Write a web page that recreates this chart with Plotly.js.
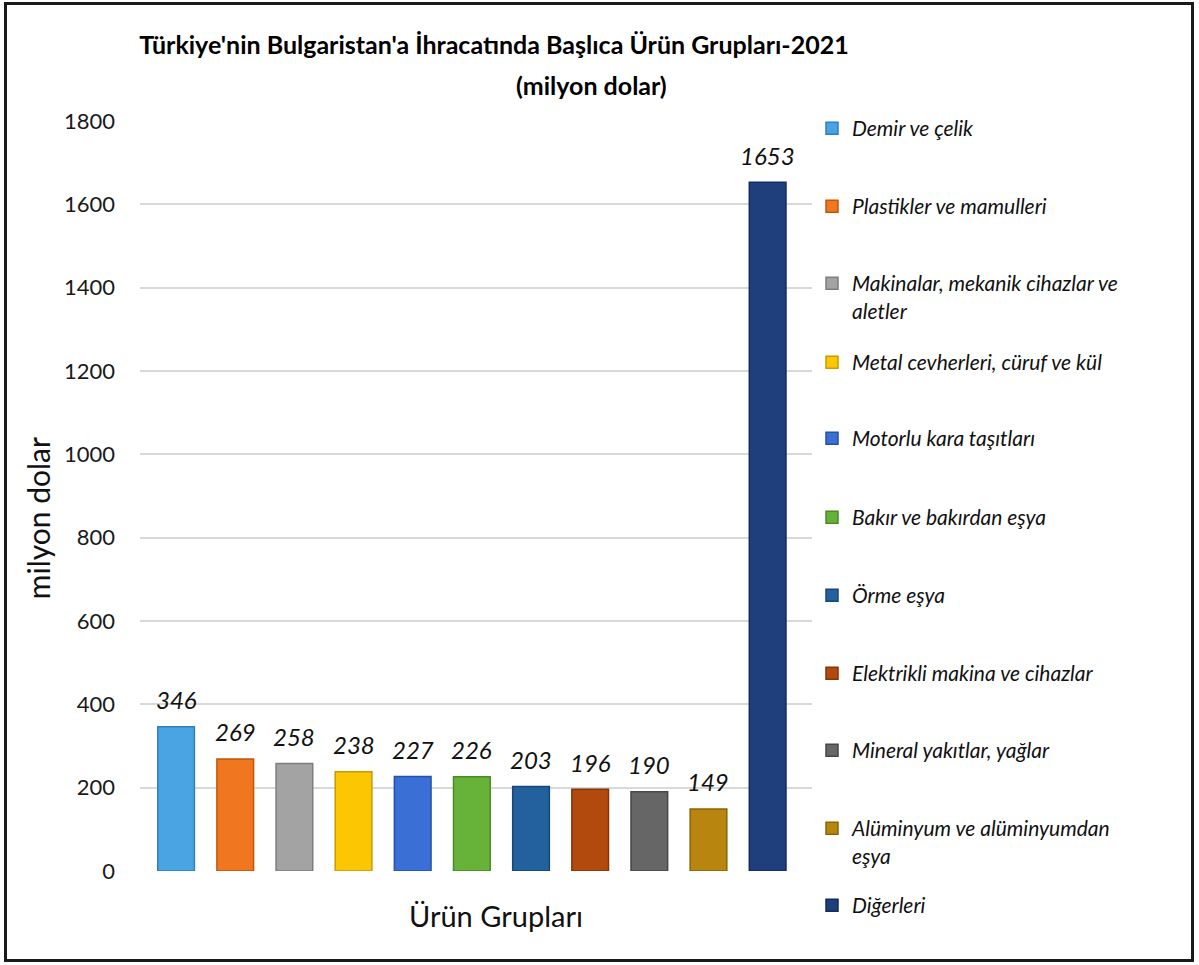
<!DOCTYPE html>
<html><head><meta charset="utf-8">
<script src="https://cdn.plot.ly/plotly-3.0.1.min.js"></script>
<style>
body{margin:0;background:#fff}
#frame{position:absolute;left:4px;top:2px;width:1184px;height:954px;border:3px solid #1a1a1a;pointer-events:none}
</style>
</head><body>
<div id="chart" style="width:1199px;height:965px"></div>
<div id="frame"></div>
<script>
const categories = [
  "Demir ve çelik",
  "Plastikler ve mamulleri",
  "Makinalar, mekanik cihazlar ve<br>aletler",
  "Metal cevherleri, cüruf ve kül",
  "Motorlu kara taşıtları",
  "Bakır ve bakırdan eşya",
  "Örme eşya",
  "Elektrikli makina ve cihazlar",
  "Mineral yakıtlar, yağlar",
  "Alüminyum ve alüminyumdan<br>eşya",
  "Diğerleri"
];
const values = [346, 269, 258, 238, 227, 226, 203, 196, 190, 149, 1653];
const yTicks = [0, 200, 400, 600, 800, 1000, 1200, 1400, 1600, 1800];
const titleLine1 = "Türkiye'nin Bulgaristan'a İhracatında Başlıca Ürün Grupları-2021";
const titleLine2 = "(milyon dolar)";
const yTitle = "milyon dolar";
const xTitle = "Ürün Grupları";

// styles
const colors = ["#4AA3E3","#F0761F","#A3A3A3","#FDC603","#3A6FD6","#67B33A","#22609E","#B24A0E","#666666","#B8860F","#1E3E7C"];
const lineColors = ["#2F80BE","#C0570E","#7D7D7D","#C99A00","#2452A8","#4A8A25","#17467A","#843507","#474747","#8A6406","#142B5A"];
const legendTextY = [128, 206, 283, 362, 438, 517, 595, 673, 750, 828, 905];
const W = 1199, H = 965;
const FONT = "Lato, 'Open Sans', sans-serif";

const traces = categories.map((c, i) => ({
  type: "bar",
  x: [c],
  y: [values[i]],
  name: c,
  width: 0.62,
  marker: {color: colors[i], line: {color: lineColors[i], width: 1.5}},
  hoverinfo: "x+y",
  legend: i === 0 ? "legend" : "legend" + (i + 1),
  showlegend: true
}));

const valueLabels = categories.map((c, i) => ({
  x: c, y: values[i], xref: "x", yref: "y",
  text: String(values[i]),
  showarrow: false, xanchor: "center", yanchor: "middle", yshift: 27,
  font: {family: FONT, size: 24, style: "italic", color: "#111"}
}));

const layout = {
  width: W, height: H,
  margin: {l: 140, r: W - 820, t: 121, b: H - 871},
  paper_bgcolor: "#fff",
  plot_bgcolor: "#fff",
  barmode: "overlay",
  font: {family: FONT, color: "#111"},
  title: {
    text: titleLine1,
    xref: "container", x: 494 / W, xanchor: "center",
    yref: "container", y: 1 - 45 / H, yanchor: "middle",
    font: {family: FONT, size: 25, weight: 700, color: "#000"}
  },
  xaxis: {
    type: "category",
    categoryarray: categories,
    showticklabels: false,
    range: [-0.61, 10.75],
    showgrid: false, zeroline: false, showline: false, ticks: ""
  },
  yaxis: {
    range: [0, 1800],
    tickvals: yTicks,
    ticktext: yTicks.map(String),
    showgrid: true, gridcolor: "#D9D9D9", gridwidth: 2,
    zeroline: false, showline: false, ticks: "",
    ticklabelstandoff: 24,
    tickfont: {family: FONT, size: 22, color: "#1a1a1a"}
  },
  annotations: [
    {text: titleLine2, xref: "paper", yref: "paper", x: (597 - 140) / 680, y: (871 - 85) / 750,
     xanchor: "center", yanchor: "middle", showarrow: false,
     font: {family: FONT, size: 25, weight: 700, color: "#000"}},
    {text: yTitle, xref: "paper", yref: "paper", x: (37 - 140) / 680, y: (871 - 518) / 750,
     xanchor: "center", yanchor: "middle", textangle: -90, showarrow: false,
     font: {family: FONT, size: 30, color: "#111"}},
    {text: xTitle, xref: "paper", yref: "paper", x: (500 - 140) / 680, y: (871 - 915) / 750,
     xanchor: "center", yanchor: "middle", showarrow: false,
     font: {family: FONT, size: 29, color: "#111"}}
  ].concat(valueLabels)
};

legendTextY.forEach((ty, i) => {
  const key = i === 0 ? "legend" : "legend" + (i + 1);
  layout[key] = {
    xref: "container", yref: "container",
    x: 812 / W, xanchor: "left",
    y: 1 - (ty - 20) / H, yanchor: "top",
    valign: "top",
    bgcolor: "rgba(0,0,0,0)",
    borderwidth: 0,
    font: {family: FONT, size: 21, style: "italic", color: "#111"}
  };
});

Plotly.newPlot("chart", traces, layout, {displayModeBar: false, responsive: false});
</script>
</body></html>
